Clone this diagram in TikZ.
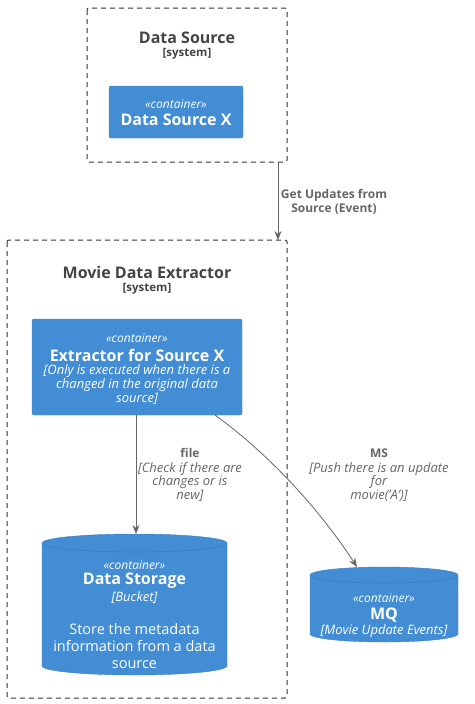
\documentclass[tikz,border=0pt]{standalone}
\usepackage{fontspec}
\setmainfont{Open Sans}
\usetikzlibrary{arrows.meta}
\definecolor{c4blue}{HTML}{438DD5}
\definecolor{c4rim}{HTML}{3C7FC0}
\definecolor{bordergray}{HTML}{444444}
\definecolor{dashgray}{HTML}{333333}
\definecolor{relgray}{HTML}{666666}
\tikzset{
  boundary/.style={draw=dashgray, dash pattern=on 5pt off 4pt, line width=1pt, rounded corners=2pt},
  contbox/.style={fill=c4blue, draw=c4rim, line width=0.4pt, rounded corners=2pt},
  cylfill/.style={fill=c4blue, draw=c4rim, line width=0.4pt},
  cylrim/.style={draw=c4rim, line width=0.6pt},
  btitle/.style={text=bordergray, font=\fontsize{16}{19}\selectfont\bfseries},
  bsub/.style={text=bordergray, font=\fontsize{11.5}{13}\selectfont\bfseries},
  stereo/.style={text=white, font=\fontsize{12}{13}\selectfont\itshape},
  cname/.style={text=white, font=\fontsize{16}{19}\selectfont\bfseries},
  cdesc/.style={text=white, font=\fontsize{13}{13.6}\selectfont\itshape, align=center},
  cbody/.style={text=white, font=\fontsize{14.5}{16.6}\selectfont, align=center},
  rel/.style={draw=relgray, line width=0.8pt, -{Stealth[length=9pt,width=7pt]}},
  rlab/.style={text=relgray, font=\fontsize{12}{14}\selectfont\bfseries, align=center},
  rdesc/.style={text=relgray, font=\fontsize{13}{13.8}\selectfont\itshape, align=center},
}
\begin{document}
\begin{tikzpicture}[x=1pt,y=-1pt]
\useasboundingbox (0,0) rectangle (474,704);
% Data Source boundary
\draw[boundary] (87,8) rectangle (287,162);
\node[btitle] (dstitle) at (187,38) {Data Source};
\node[bsub] (dssub) at (187,54) {[system]};
\path[contbox] (109,86) rectangle (243,138);
\node[stereo] (dsxst) at (176,104) {«container»};
\node[cname] (dsx) at (176,120) {Data Source X};
% Movie Data Extractor boundary
\coordinate (dsb) at (278,162);
\draw[boundary] (7,240) rectangle (287,698);
\coordinate (mdet) at (278,240);
\node[btitle] (mdetitle) at (147,272) {Movie Data Extractor};
\node[bsub] (mdesub) at (147,289) {[system]};
% Extractor
\path[contbox] (32,319) rectangle (242,415);
\node[stereo] (exst) at (137,338) {«container»};
\node[cname] (exname) at (137,355) {Extractor for Source X};
\node[cdesc] (exdesc) at (137,384.5) {[Only is executed when there is a\\changed in the original data\\source]};
\coordinate (exbot) at (136,415);
\coordinate (exbr) at (215,415);
% Data Storage cylinder
\path[cylfill] (42,543) arc[start angle=180, end angle=0, x radius=92.5pt, y radius=9pt]
  -- (227,666) arc[start angle=0, end angle=-180, x radius=92.5pt, y radius=9pt] -- cycle;
\draw[cylrim] (42,543) arc[start angle=180, end angle=360, x radius=92.5pt, y radius=9pt];
\coordinate (dstop) at (136,534);
\node[stereo] (dsst) at (134.5,565) {«container»};
\node[cname] (dsname) at (134.5,581) {Data Storage};
\node[cdesc] (dsdesc) at (134.5,598) {[Bucket]};
\node[cbody] (dsbody) at (134.5,646) {Store the metadata\\information from a data\\source};
% MQ cylinder
\path[cylfill] (310,575) arc[start angle=180, end angle=0, x radius=74pt, y radius=8pt]
  -- (458,634) arc[start angle=0, end angle=-180, x radius=74pt, y radius=8pt] -- cycle;
\draw[cylrim] (310,575) arc[start angle=180, end angle=360, x radius=74pt, y radius=8pt];
\coordinate (mqtop) at (357,567);
\node[stereo] (mqst) at (384,598) {«container»};
\node[cname] (mqname) at (384,615) {MQ};
\node[cdesc] (mqdesc) at (384,631) {[Movie Update Events]};
% relations
\draw[rel] (dsb) -- (mdet);
\node[rlab] (l1) at (334,202) {Get Updates from\\Source (Event)};
\draw[rel] (exbr) .. controls (270,455) and (320,510) .. (mqtop);
\draw[rel] (exbot) -- (dstop);
\node[rlab] (l2) at (190,453) {file};
\node[rdesc] (l2d) at (190,482) {[Check if there are\\changes or is\\new]};
\node[rlab] (l3) at (379,453) {MS};
\node[rdesc] (l3d) at (379,482) {[Push there is an update\\for\\movie('A')]};
\end{tikzpicture}
\end{document}
